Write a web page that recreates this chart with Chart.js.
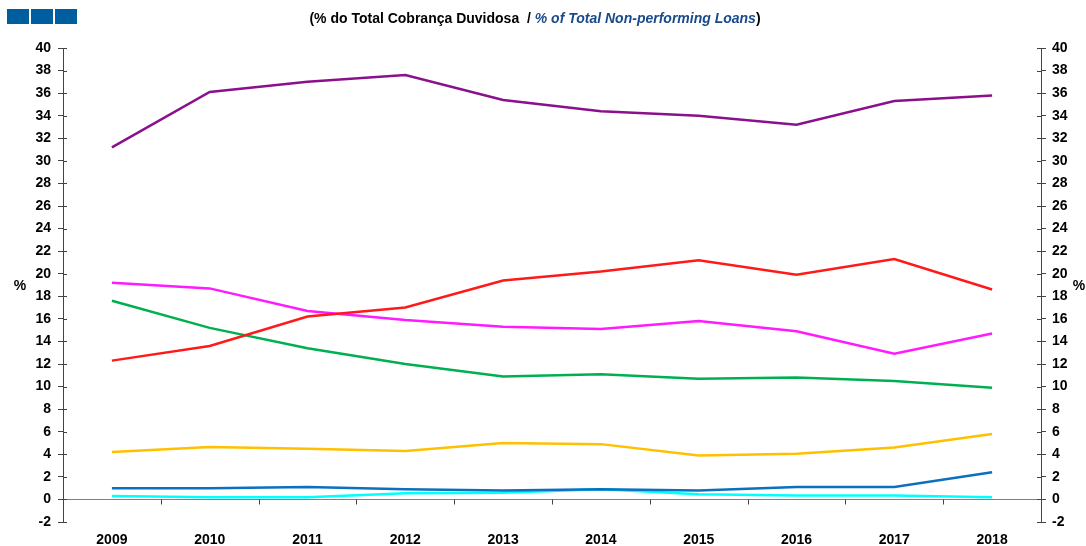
<!DOCTYPE html>
<html>
<head>
<meta charset="utf-8">
<script src="https://cdn.jsdelivr.net/npm/chart.js@4/dist/chart.umd.min.js"></script>
<style>
  html, body { margin: 0; padding: 0; background: #fff; }
  #wrap { position: relative; width: 1086px; height: 546px; }
  #chart { position: absolute; left: 0; top: 0; }
  .sq { position: absolute; top: 9px; width: 22px; height: 15px; background: #005da0; }
  #title { position: absolute; top: 10px; left: 0; width: 1070px; text-align: center;
           font-family: Arial, "Liberation Sans", sans-serif; font-size: 14px; font-weight: bold; color: #000; }
  #title i { color: #1a4a8a; }
</style>
</head>
<body>
<div id="wrap">
  <canvas id="chart" width="1086" height="546"></canvas>
  <div class="sq" style="left:7px"></div>
  <div class="sq" style="left:31px"></div>
  <div class="sq" style="left:55px"></div>
  <div id="title">(% do Total Cobrança Duvidosa&nbsp; / <i>% of Total Non-performing Loans</i>)</div>
</div>
<script>
// Data
const years = ['2009', '2010', '2011', '2012', '2013', '2014', '2015', '2016', '2017', '2018'];

const purpleSeries  = [31.2, 36.1, 37.0, 37.6, 35.4, 34.4, 34.0, 33.2, 35.3, 35.8];
const redSeries     = [12.3, 13.6, 16.2, 17.0, 19.4, 20.2, 21.2, 19.9, 21.3, 18.6];
const magentaSeries = [19.2, 18.7, 16.7, 15.9, 15.3, 15.1, 15.8, 14.9, 12.9, 14.7];
const greenSeries   = [17.6, 15.2, 13.4, 12.0, 10.9, 11.1, 10.7, 10.8, 10.5, 9.9];
const orangeSeries  = [4.2, 4.65, 4.5, 4.3, 5.0, 4.9, 3.9, 4.05, 4.6, 5.8];
const blueSeries    = [1.0, 1.0, 1.1, 0.9, 0.8, 0.9, 0.8, 1.1, 1.1, 2.4];
const cyanSeries    = [0.3, 0.2, 0.2, 0.55, 0.6, 0.9, 0.45, 0.35, 0.35, 0.2];

const yMin = -2;
const yMax = 40;
const yStep = 2;

const FONT = 'Arial, "Liberation Sans", sans-serif';

function line(label, data, color) {
    return {
        label: label,
        data: data,
        borderColor: color,
        backgroundColor: color,
        borderWidth: 2.5,
        pointRadius: 0,
        tension: 0,
        yAxisID: 'y'
    };
}

// zero line, x ticks on the zero line, inner halves of the y ticks, "%" labels
const axisExtras = {
    id: 'axisExtras',
    beforeDatasetsDraw(chart) {
        const ctx = chart.ctx;
        const area = chart.chartArea;
        const x = chart.scales.x;
        const y = chart.scales.y;
        const y0 = Math.round(y.getPixelForValue(0)) + 0.5;
        ctx.save();
        ctx.strokeStyle = '#808080';
        ctx.lineWidth = 1;
        ctx.beginPath();
        ctx.moveTo(area.left, y0);
        ctx.lineTo(area.right, y0);
        ctx.stroke();

        ctx.strokeStyle = '#444';
        ctx.beginPath();
        for (let i = 0; i < years.length - 1; i++) {
            const bx = Math.round((x.getPixelForValue(i) + x.getPixelForValue(i + 1)) / 2) + 0.5;
            ctx.moveTo(bx, y0);
            ctx.lineTo(bx, y0 + 5);
        }
        for (let v = yMin; v <= yMax; v += yStep) {
            const py = Math.round(y.getPixelForValue(v)) + 0.5;
            ctx.moveTo(area.left, py);
            ctx.lineTo(area.left + 4, py);
            ctx.moveTo(area.right - 4, py);
            ctx.lineTo(area.right, py);
        }
        ctx.stroke();

        ctx.fillStyle = '#000';
        ctx.font = 'bold 14px ' + FONT;
        ctx.textAlign = 'center';
        ctx.textBaseline = 'middle';
        ctx.fillText('%', 20, 286);
        ctx.fillText('%', 1079, 286);
        ctx.restore();
    }
};

new Chart(document.getElementById('chart').getContext('2d'), {
    type: 'line',
    data: {
        labels: years,
        datasets: [
            line('A', purpleSeries, '#8b108b'),
            line('B', redSeries, '#ff1a1a'),
            line('C', magentaSeries, '#ff1aff'),
            line('D', greenSeries, '#00b050'),
            line('E', orangeSeries, '#ffc000'),
            line('F', blueSeries, '#0a70c0'),
            line('G', cyanSeries, '#00ffff')
        ]
    },
    options: {
        responsive: false,
        animation: false,
        layout: { padding: { top: 48, left: 0, right: 0, bottom: 0 } },
        plugins: {
            legend: { display: false },
            tooltip: { enabled: false }
        },
        scales: {
            x: {
                offset: true,
                grid: { display: false, drawTicks: false },
                border: { display: false },
                ticks: {
                    color: '#000',
                    padding: 10,
                    maxRotation: 0,
                    font: { family: FONT, size: 14, weight: 'bold' }
                },
                afterFit(scale) { scale.height = 24; }
            },
            y: {
                position: 'left',
                min: yMin,
                max: yMax,
                ticks: {
                    stepSize: yStep,
                    color: '#000',
                    padding: 7,
                    font: { family: FONT, size: 14, weight: 'bold' }
                },
                grid: { drawOnChartArea: false, tickLength: 5, color: '#444' },
                border: { color: '#444', width: 1 },
                afterFit(scale) { scale.width = 63; }
            },
            y2: {
                position: 'right',
                min: yMin,
                max: yMax,
                ticks: {
                    stepSize: yStep,
                    color: '#000',
                    padding: 6,
                    font: { family: FONT, size: 14, weight: 'bold' }
                },
                grid: { drawOnChartArea: false, tickLength: 5, color: '#444' },
                border: { color: '#444', width: 1 },
                afterFit(scale) { scale.width = 45; }
            }
        }
    },
    plugins: [axisExtras]
});
</script>
</body>
</html>
